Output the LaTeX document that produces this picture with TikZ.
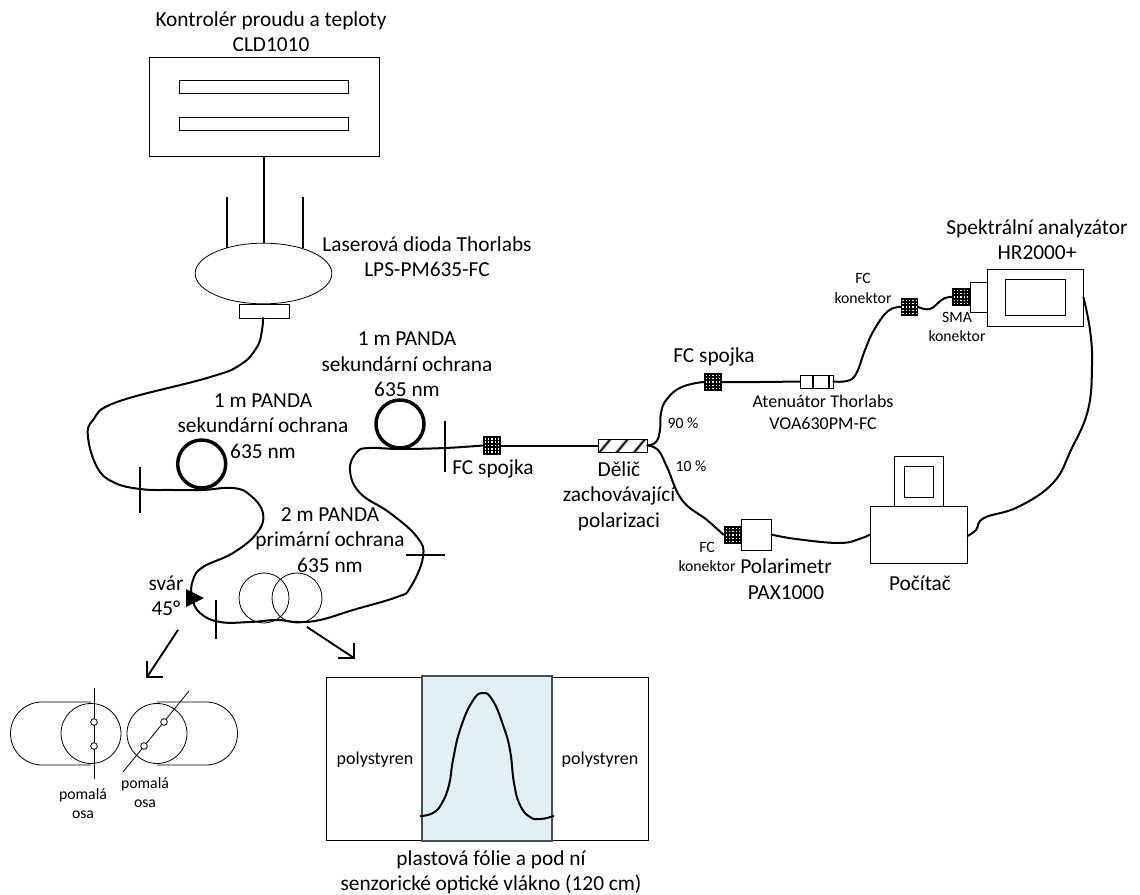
\documentclass[tikz,border=0pt]{standalone}
\usepackage{fontspec}
\setmainfont{Carlito}
\usetikzlibrary{arrows.meta,shapes.geometric}
\definecolor{foil}{HTML}{E1F0F6}
\definecolor{foiledge}{HTML}{474F52}
\newcommand{\bx}[6][thinbox]{%
  \pgfmathsetmacro{\bxw}{(#5-#3)*0.75}\pgfmathsetmacro{\bxh}{(#6-#4)*0.75}%
  \node[#1,minimum width=\bxw pt,minimum height=\bxh pt] (#2) at ({(#3+#5)/2},{(#4+#6)/2}) {};}
\tikzset{
  thinbox/.style={draw,rectangle,inner sep=0pt,line width=0.6pt,fill=white},
  fibre/.style={line width=1.5pt,line cap=round,line join=round},
  wire/.style={line width=1.5pt},
  fcblock/.style={rectangle,inner sep=0pt,fill=black,
    path picture={\foreach \i in {-2,...,2}\foreach \j in {-2,...,2}{
      \fill[white] ([xshift=\i*2.5pt-0.5pt,yshift=\j*2.5pt-0.5pt]path picture bounding box.center) rectangle +(1.4,-1.4);}}},
  splitbox/.style={draw,rectangle,inner sep=0pt,line width=0.6pt,fill=white,
    path picture={\foreach \i in {-13,0,13}{
      \draw[gray!70,line width=2.6pt] ([xshift=\i pt-5pt,yshift=-6pt]path picture bounding box.center) -- ++(10pt,12pt);
      \draw[black,line width=1pt] ([xshift=\i pt-5pt,yshift=-6pt]path picture bounding box.center) -- ++(10pt,12pt);}}},
  ring/.style={draw,circle,inner sep=0pt,minimum size=36pt,line width=2.6pt},
  loopc/.style={draw,circle,inner sep=0pt,minimum size=37.5pt,line width=0.6pt},
  endc/.style={draw,circle,inner sep=0pt,minimum size=45pt,line width=0.6pt},
  tiny/.style={draw,circle,inner sep=0pt,minimum size=5pt,line width=0.6pt},
  big/.style={align=center,inner sep=0pt,font=\fontsize{16}{19}\selectfont},
  mid/.style={align=center,inner sep=0pt,font=\fontsize{13.5}{16.5}\selectfont},
  small/.style={align=center,inner sep=0pt,font=\fontsize{11.8}{14.5}\selectfont},
  barb/.style={line width=1.4pt,line join=miter},
}
\begin{document}
\begin{tikzpicture}[x=0.75pt,y=-0.75pt]
\useasboundingbox (0,0) rectangle (1140,895);
% controller
\bx{ctrl}{149}{57}{379}{156}
\bx{ctrlA}{179}{80}{348}{93}
\bx{ctrlB}{179}{117}{348}{130}
\node[big] (tctrl) at (271,31.5) {Kontrolér proudu a teploty\\CLD1010};
% laser
\coordinate (leadA) at (227,197);
\coordinate (leadB) at (303,197);
\coordinate (leadAe) at (227,248);
\coordinate (leadBe) at (303,248);
\draw[wire] (leadA) -- (leadAe);
\draw[wire] (leadB) -- (leadBe);
\node[draw,ellipse,inner sep=0pt,minimum width=102.5pt,minimum height=45.5pt,line width=0.6pt,fill=white] (laser) at (263.5,273.5) {};
\draw[wire] (ctrl.south -| laser.north) -- (laser.north);
\bx{port}{239}{304}{289}{318}
\node[big] (tlaser) at (427,256.5) {Laserová dioda Thorlabs\\LPS-PM635-FC};
% nodes on the fibre
\bx[fcblock]{fcA}{483}{436}{501}{455}
\bx[splitbox]{split}{598}{439}{647}{452}
\node[ring] (ringA) at (201.7,464) {};
\node[ring] (ringB) at (400,424) {};
\node[loopc] (loopA) at (264,598) {};
\node[loopc] (loopB) at (297,598) {};
% fibre from laser to coupler
\draw[fibre] plot[smooth,tension=0.7] coordinates {(263,318) (262,330) (257,347) (240,365) (207,378) (117,402) (93,420) (88,437) (97,467) (113,482) (140,489) (173,490) (202,490) (233,488) (250,495) (263,513) (257,533) (233,553) (203,567) (193,580) (192,597) (200,613) (220,622) (250,622) (277,620) (297,622) (320,620) (353,610) (397,597) (410,588) (423,557) (417,537) (390,513) (360,493) (350,470) (357,452) (370,448) (400,449) (445,448) (fcA.west)};
\draw[fibre] (fcA.east) -- (split.west);
% splices and marks
\coordinate (mA) at (140,467); \coordinate (mAe) at (140,513);
\coordinate (mB) at (445,421); \coordinate (mBe) at (445,472);
\coordinate (mC) at (406,555); \coordinate (mCe) at (445,555);
\coordinate (mD) at (216,600); \coordinate (mDe) at (216,639);
\draw[wire] (mA) -- (mAe);
\draw[wire] (mB) -- (mBe);
\draw[wire] (mC) -- (mCe);
\draw[wire] (mD) -- (mDe);
\fill (186,589) -- (204,598) -- (186,607) -- cycle;
% upper branch
\bx[fcblock]{fcB}{704}{373}{722}{391}
\bx{atten}{800}{375}{833}{388}
\draw[line width=0.8pt] (813,375) -- (813,388) (829,375) -- (829,388);
\bx[fcblock]{fcC}{901}{298}{918}{316}
\bx[fcblock]{fcD}{952}{288}{970}{306}
\bx{sma}{970}{282}{988}{312}
\bx{spec}{987}{269}{1083}{326}
\bx{specIn}{1005}{279}{1065}{315}
\draw[fibre] plot[smooth,tension=0.8] coordinates {(split.east) (656,442) (660,430) (661,413) (667,399) (682,387) (fcB.west)};
\draw[fibre] plot[smooth,tension=0.6] coordinates {(fcB.east) (760,382) (atten.west)};
\draw[fibre] plot[smooth,tension=0.7] coordinates {(atten.east) (847,381) (856,374) (865,350) (874,330) (888,311) (fcC.west)};
\draw[fibre] plot[smooth,tension=0.7] coordinates {(fcC.east) (930,309) (943,299) (fcD.west)};
% lower branch
\bx{polar}{741}{519}{771}{550}
\bx[fcblock]{fcE}{724}{526}{742}{544}
\bx{pc}{870}{506}{967}{563}
\bx{mon}{894}{456}{943}{506}
\bx{monIn}{904}{466}{933}{497}
\draw[fibre] plot[smooth,tension=0.7] coordinates {(split.east) (658,450) (667,467) (682,500) (707,520) (fcE.west)};
\draw[fibre] plot[smooth,tension=0.7] coordinates {(polar.east) (796,539) (840,543) (862,538) (pc.west)};
\draw[fibre] plot[smooth,tension=0.7] coordinates {(spec.east |- 0,297) (1090,330) (1092,365) (1088,410) (1071,450) (1053,483) (1018,507) (984,518) (976,530) (pc.east |- 0,536)};
% arrows
\coordinate (arA) at (178,630); \coordinate (arAe) at (147,677);
\coordinate (arAu) at (147,661); \coordinate (arAr) at (163,677);
\coordinate (arB) at (307,627); \coordinate (arBe) at (354,658);
\coordinate (arBu) at (354,643); \coordinate (arBl) at (338,658);
\draw[barb] (arA) -- (arAe);
\draw[barb] (arAu) -- (arAe) -- (arAr);
\draw[barb] (arB) -- (arBe);
\draw[barb] (arBu) -- (arBe) -- (arBl);
% fibre end faces
\draw[line width=0.6pt] (91,702) -- (42,702) arc[start angle=270,end angle=90,radius=31.5] -- (91,765);
\draw[line width=0.6pt] (157,702) -- (206,702) arc[start angle=270,end angle=450,radius=31.5] -- (157,765);
\node[endc] (faceA) at (91,733.5) {};
\node[endc] (faceB) at (157,733.5) {};
\coordinate (axA) at (94,688); \coordinate (axAe) at (94,779);
\coordinate (axB) at (189,691); \coordinate (axBe) at (123,772);
\draw[line width=0.6pt] (axA) -- (axAe);
\draw[line width=0.6pt] (axB) -- (axBe);
\node[tiny,fill=white] (dA) at (94,722) {};
\node[tiny,fill=white] (dB) at (94,746) {};
\node[tiny,fill=white] (dC) at (164,722) {};
\node[tiny,fill=white] (dD) at (144,746) {};
\node[small] (tax) at (83,803.5) {pomalá\\osa};
\node[small] (tbx) at (145,792.5) {pomalá\\osa};
% sensor
\bx{poly}{326.5}{677}{648}{840}
\bx[draw=foiledge,fill=foil,line width=2pt,rectangle,inner sep=0pt]{foilr}{422}{676}{552}{841}
\draw[fibre] plot[smooth,tension=0.8] coordinates {(foilr.west |- 0,816) (433,813) (442,803) (449,785) (453,760) (460,730) (472,702) (483,693) (493,701) (503,725) (510,750) (514,783) (520,805) (530,817) (541,819) (foilr.east |- 0,816)};
\node[mid] (tpl) at (375,760) {polystyren};
\node[mid] (tpr) at (600,760) {polystyren};
\node[big] (tfoil) at (491,872) {plastová fólie a pod ní\\senzorické optické vlákno (120 cm)};
% labels
\node[big] (t1) at (263,426) {1 m PANDA\\sekundární ochrana\\635 nm};
\node[big] (t2) at (407,364.5) {1 m PANDA\\sekundární ochrana\\635 nm};
\node[big] (t3) at (330,540) {2 m PANDA\\primární ochrana\\635 nm};
\node[big] (t4) at (166,595.5) {svár\\45°};
\node[big] (t5) at (493,469) {FC spojka};
\node[big] (t6) at (619,496) {Dělič\\zachovávající\\polarizaci};
\node[big] (t7) at (714,357) {FC spojka};
\node[mid] (t8) at (823,412) {Atenuátor Thorlabs\\VOA630PM-FC};
\node[small] (t9) at (683,423) {90 \%};
\node[small] (t10) at (691,466) {10 \%};
\node[small] (t11) at (863,288.5) {FC\\konektor};
\node[small] (t12) at (957,327) {SMA\\konektor};
\node[big] (t13) at (1037,240) {Spektrální analyzátor\\HR2000+};
\node[big] (t14) at (920,583) {Počítač};
\node[big] (t15) at (786,579) {Polarimetr\\PAX1000};
\node[small] (t16) at (707,557) {FC\\konektor};
\end{tikzpicture}
\end{document}
